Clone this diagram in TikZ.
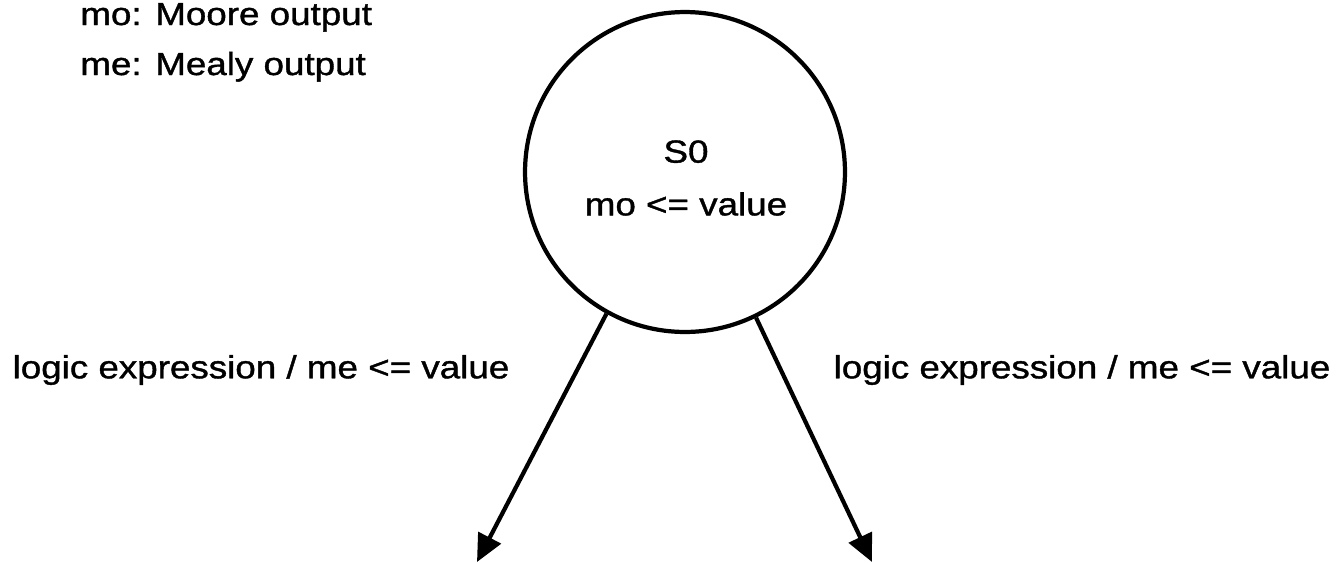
\documentclass[tikz,border=0pt]{standalone}
\usepackage{fontspec}
\setmainfont{Liberation Sans}[FakeStretch=1.15, FakeBold=1.2]
\usetikzlibrary{arrows.meta}
\begin{document}
\begin{tikzpicture}[x=0.02cm, y=-0.02cm,
    state/.style={circle, draw, line width=2.4pt, minimum size=6.4cm, inner sep=0pt},
    trans/.style={line width=2.4pt, -{Triangle[length=0.55cm, width=0.5cm]}},
    txt/.style={font=\fontsize{18.2}{30}\selectfont, inner sep=0pt}]
        \useasboundingbox (0,0) rectangle (1338,562);
        \node[txt, anchor=base west] (mo) at (80,25) {mo: Moore output};
        \node[txt, anchor=base west] (me) at (80,75) {me: Mealy output};
        \node[state] (s0) at (685,172) {};
        \node[txt, align=center] (s0txt) at (686,178) {S0\\mo <= value};
        \coordinate (t1) at (477,562);
        \coordinate (t2) at (872,562);
        \draw[trans] (s0.-119) -- (t1);
        \draw[trans] (s0.-64) -- (t2);
        \node[txt] (lbl1) at (261,370) {logic expression / me <= value};
        \node[txt] (lbl2) at (1082,370) {logic expression / me <= value};
    \end{tikzpicture}
\end{document}
